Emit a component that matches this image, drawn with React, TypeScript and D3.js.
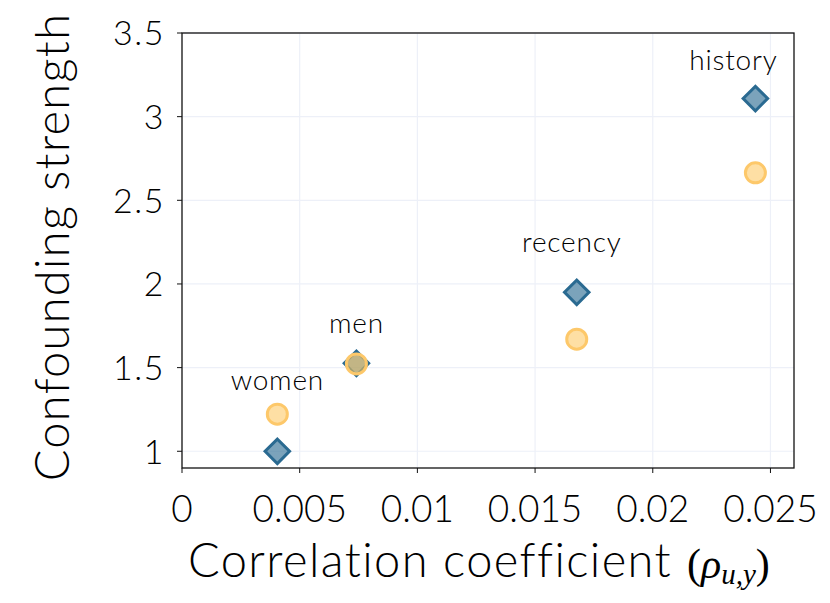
import * as d3 from "d3";

const labels = ["women", "men", "recency", "history"];
const corr = [0.00405, 0.00741, 0.01677, 0.02436];
const strengthDiamond = [1.0, 1.526, 1.95, 3.108];
const strengthCircle = [1.222, 1.522, 1.67, 2.664];
const xTicks = [0, 0.005, 0.01, 0.015, 0.02, 0.025];
const yTicks = [1, 1.5, 2, 2.5, 3, 3.5];

// label nudges (px) so the names sit above the markers
const labelDx = [0, 0, -5, -22];
const labelDy = [-24, -30, -40, -29];

const FONT = "Lato, 'Noto Sans', sans-serif";
const SERIF = "'Liberation Serif', 'DejaVu Serif', serif";

export default function App() {
  const width = 830;
  const height = 603;
  const left = 182;
  const right = 794;
  const top = 33;
  const bottom = 468;

  const x = d3.scaleLinear().domain([0, 0.026]).range([left, right]);
  const y = d3.scaleLinear().domain([0.9, 3.5]).range([bottom, top]);

  const diamond = d3.symbol(d3.symbolSquare, 300)();

  return (
    <svg
      width={width}
      height={height}
      style={{ position: "absolute", left: 0, top: 0, background: "#fff" }}
      fontFamily={FONT}
      fontWeight={300}
    >
      {/* grid */}
      <g stroke="#edf0f8" strokeWidth={1.2}>
        {xTicks.slice(1).map((t) => (
          <line key={"gx" + t} x1={x(t)} x2={x(t)} y1={top} y2={bottom} />
        ))}
        {yTicks.map((t) => (
          <line key={"gy" + t} x1={left} x2={right} y1={y(t)} y2={y(t)} />
        ))}
      </g>

      {/* frame */}
      <rect
        x={left}
        y={top}
        width={right - left}
        height={bottom - top}
        fill="none"
        stroke="#111"
        strokeWidth={1.3}
      />

      {/* x ticks */}
      <g>
        {xTicks.map((t) => (
          <g key={"xt" + t}>
            <line x1={x(t)} x2={x(t)} y1={bottom} y2={bottom + 5} stroke="#111" />
            <text
              x={x(t)}
              y={522}
              textAnchor="middle"
              fontSize={37}
              fill="#000"
            >
              {t === 0 ? "0" : String(t)}
            </text>
          </g>
        ))}
      </g>

      {/* y ticks */}
      <g>
        {yTicks.map((t) => (
          <g key={"yt" + t}>
            <line x1={left - 5} x2={left} y1={y(t)} y2={y(t)} stroke="#111" />
            <text
              x={left - 17}
              y={y(t)}
              dy="0.36em"
              textAnchor="end"
              fontSize={34}
              letterSpacing={1.5}
              fill="#000"
            >
              {String(t)}
            </text>
          </g>
        ))}
      </g>

      {/* axis titles */}
      <text x={188} y={577} fontSize={47} letterSpacing={1.4} fill="#000">
        Correlation coefficient
      </text>
      <text x={687} y={578} fontFamily={SERIF} fontWeight={400} fontSize={42} fill="#000">
        (<tspan fontStyle="italic">ρ</tspan>
        <tspan fontStyle="italic" fontSize={29} dy={6}>
          u,y
        </tspan>
        <tspan dy={-6}>)</tspan>
      </text>
      <text
        transform={`translate(69,247) rotate(-90)`}
        textAnchor="middle"
        fontSize={47}
        letterSpacing={1.3}
        fill="#000"
      >
        Confounding strength
      </text>

      {/* markers */}
      {corr.map((c, i) => (
        <path
          key={"d" + i}
          d={diamond || undefined}
          transform={`translate(${x(c)},${y(strengthDiamond[i])}) rotate(45)`}
          fill="rgba(42,106,145,0.62)"
          stroke="#2a6a91"
          strokeWidth={3}
        />
      ))}
      {corr.map((c, i) => (
        <circle
          key={"c" + i}
          cx={x(c)}
          cy={y(strengthCircle[i])}
          r={10}
          fill="rgba(253,196,90,0.55)"
          stroke="#fdc86a"
          strokeWidth={3}
        />
      ))}

      {/* point labels */}
      {corr.map((c, i) => (
        <text
          key={"l" + i}
          x={x(c) + labelDx[i]}
          y={y(Math.max(strengthDiamond[i], strengthCircle[i])) + labelDy[i]}
          textAnchor="middle"
          fontSize={28}
          letterSpacing={0.8}
          fill="#000"
        >
          {labels[i]}
        </text>
      ))}
    </svg>
  );
}
